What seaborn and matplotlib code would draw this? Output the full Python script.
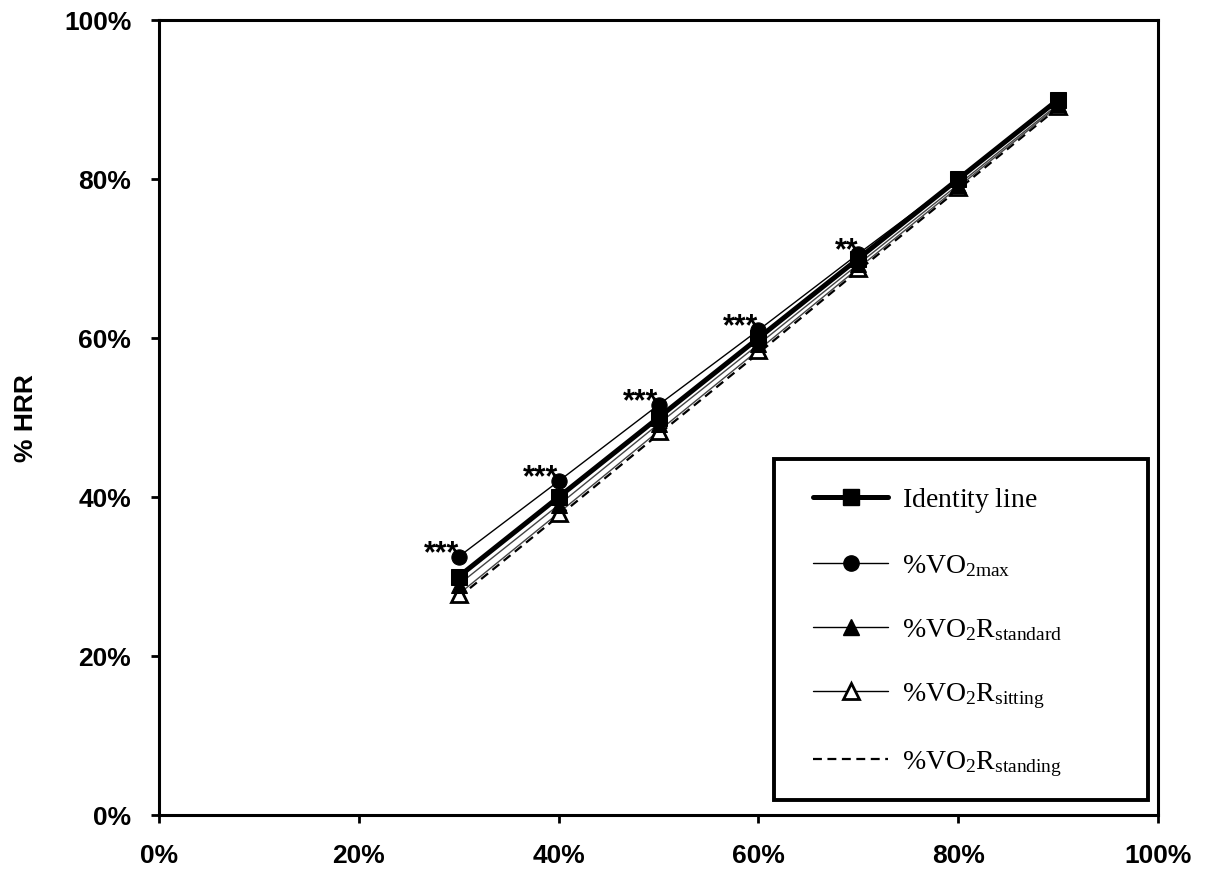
import matplotlib
matplotlib.use("Agg")
import matplotlib.pyplot as plt
import seaborn as sns
import pandas as pd
from matplotlib.lines import Line2D
from matplotlib.patches import Rectangle
from matplotlib.ticker import PercentFormatter

# ---- data (percent) ----
x_pct = [30, 40, 50, 60, 70, 80, 90]
identity = [30, 40, 50, 60, 70, 80, 90]
vo2max = [32.5, 42.0, 51.6, 61.0, 70.6, 80.0, 89.8]
vo2r_standard = [29.0, 39.0, 49.2, 59.2, 69.3, 79.3, 89.4]
vo2r_sitting = [27.8, 38.0, 48.3, 58.5, 68.8, 79.0, 89.2]
vo2r_standing = [27.4, 37.6, 47.9, 58.1, 68.5, 78.7, 89.0]
stars = ["***", "***", "***", "***", "**", "", ""]
xticks = [0, 20, 40, 60, 80, 100]
yticks = [0, 20, 40, 60, 80, 100]

sns.set_theme(style="white")
plt.rcParams["font.family"] = ["Liberation Sans", "DejaVu Sans"]
plt.rcParams["text.color"] = "black"
plt.rcParams["axes.labelcolor"] = "black"
plt.rcParams["xtick.color"] = "black"
plt.rcParams["ytick.color"] = "black"
plt.rcParams["mathtext.fontset"] = "custom"
plt.rcParams["mathtext.rm"] = "Liberation Serif"
plt.rcParams["mathtext.it"] = "Liberation Serif:italic"

fig = plt.figure(figsize=(12.05, 8.76), dpi=100)
ax = fig.add_axes([0.132, 0.0696, 0.829, 0.9074])

def draw(vals, **kw):
    df = pd.DataFrame({"x": x_pct, "y": vals})
    sns.lineplot(data=df, x="x", y="y", ax=ax, **kw)

dash = (0, (4, 2.5))
draw(vo2r_standing, color="black", lw=1.6, linestyle=dash, zorder=2)
draw(vo2r_sitting, color="#444444", lw=1.0, marker="^", markersize=11,
     markerfacecolor="white", markeredgecolor="black", markeredgewidth=2, zorder=3)
draw(vo2r_standard, color="#444444", lw=1.0, marker="^", markersize=11,
     markerfacecolor="black", markeredgecolor="black", zorder=4)
draw(vo2max, color="black", lw=1.0, marker="o", markersize=11,
     markerfacecolor="black", markeredgecolor="black", zorder=5)
draw(identity, color="black", lw=3.6, marker="s", markersize=11.5,
     markerfacecolor="black", markeredgecolor="black", zorder=6)

for xv, yv, s in zip(x_pct, vo2max, stars):
    if s:
        ax.annotate(s, (xv, yv), xytext=(0, -4), textcoords="offset points",
                    ha="right", va="baseline", fontsize=22, fontweight="bold",
                    color="black", family="Liberation Sans", zorder=7)

ax.set_xlim(0, 100)
ax.set_ylim(0, 100)
ax.set_xticks(xticks)
ax.set_yticks(yticks)
ax.xaxis.set_major_formatter(PercentFormatter(decimals=0))
ax.yaxis.set_major_formatter(PercentFormatter(decimals=0))
ax.tick_params(axis="both", direction="out", length=6, width=2, color="black",
               labelsize=19, bottom=True, left=True)
ax.tick_params(axis="x", pad=15)
ax.tick_params(axis="y", pad=14)
for lab in ax.get_xticklabels() + ax.get_yticklabels():
    lab.set_fontweight("bold")
ax.set_xlabel("")
ax.set_ylabel("% HRR", fontsize=19, fontweight="bold", labelpad=19)
for sp in ax.spines.values():
    sp.set_visible(True)
    sp.set_color("black")
    sp.set_linewidth(2.2)

# legend frame box
ax.add_patch(Rectangle((0.6156, 0.0189), 0.3744, 0.4289, transform=ax.transAxes,
                       fill=True, facecolor="white", edgecolor="black",
                       linewidth=2.8, zorder=8))

handles = [
    Line2D([], [], color="black", lw=3.6, marker="s", markersize=11.5),
    Line2D([], [], color="black", lw=1.0, marker="o", markersize=11),
    Line2D([], [], color="black", lw=1.0, marker="^", markersize=11),
    Line2D([], [], color="black", lw=1.0, marker="^", markersize=11,
           markerfacecolor="white", markeredgewidth=2),
    Line2D([], [], color="black", lw=1.6, linestyle=dash),
]
labels = [
    r"$\mathrm{Identity\ line}$",
    r"$\mathrm{\%VO_{2max}}$",
    r"$\mathrm{\%VO_2R_{standard}}$",
    r"$\mathrm{\%VO_2R_{sitting}}$",
    r"$\mathrm{\%VO_2R_{standing}}$",
]
leg = ax.legend(handles, labels, loc="center left", bbox_to_anchor=(0.6547, 0.2296),
                fontsize=20, frameon=False, handlelength=2.7, handletextpad=0.5,
                labelspacing=1.37, borderpad=0, borderaxespad=0)
leg.set_zorder(9)

fig.savefig("out.png", dpi=100, facecolor="white")
